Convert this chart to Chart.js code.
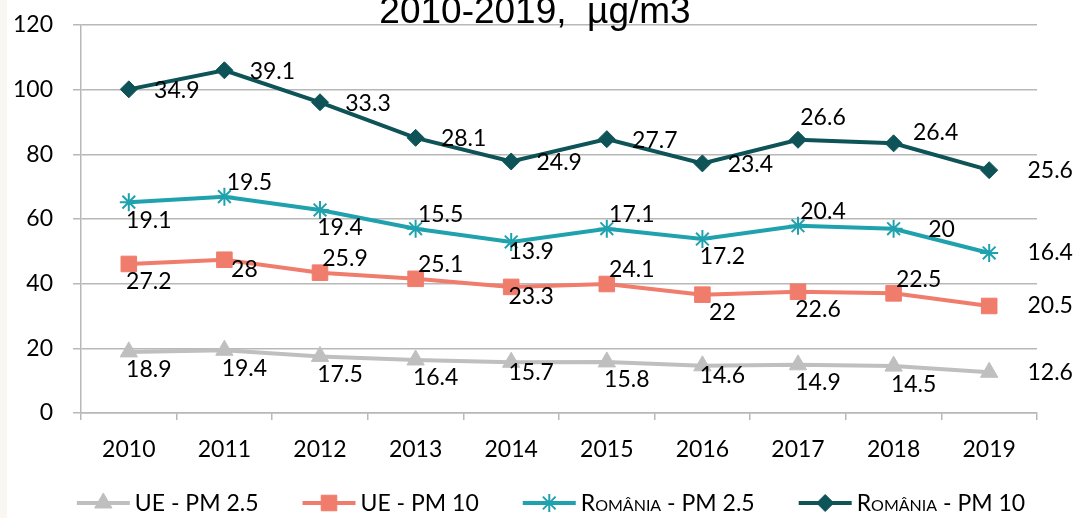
<!DOCTYPE html>
<html><head><meta charset="utf-8">
<script src="https://cdn.jsdelivr.net/npm/chart.js@4.4.1/dist/chart.umd.min.js"></script>
<style>
html,body{margin:0;padding:0;}
body{width:1078px;height:518px;overflow:hidden;background:linear-gradient(to right,#faf6f2 0,#faf6f2 7px,#ffffff 7px);}
#wrap{position:relative;width:1078px;height:518px;}
canvas{display:block;}
</style></head><body>
<div id="wrap"><canvas id="c" width="1078" height="518"></canvas></div>
<script>
// ---- data ----
const years = ['2010','2011','2012','2013','2014','2015','2016','2017','2018','2019'];
const uePM25 = [18.9,19.4,17.5,16.4,15.7,15.8,14.6,14.9,14.5,12.6];
const uePM10 = [27.2,28,25.9,25.1,23.3,24.1,22,22.6,22.5,20.5];
const roPM25 = [19.1,19.5,19.4,15.5,13.9,17.1,17.2,20.4,20,16.4];
const roPM10 = [34.9,39.1,33.3,28.1,24.9,27.7,23.4,26.6,26.4,25.6];
const yTicks = [0,20,40,60,80,100,120];
const seriesNames = ['UE - PM 2.5','UE - PM 10','România - PM 2.5','România - PM 10'];
const titleText = '2010-2019,  µg/m3';

// label placement keywords (separate from data)
const placeUE25 = ['b','b','b','b','bn','b','bn','b','b','e'];
const placeUE10 = ['b','bn','a','a','bn','a','b','b','a','e'];
const placeRO25 = ['b','a','b','a','bn','a','b','a','r','e'];
const placeRO10 = ['r','r','r','r','r','r','r','at','ar','e'];

const placeOffsets = {
  r:[48,1], e:[61,0], a:[25,-14], at:[25,-22], ar:[42,-11], b:[20,18], bn:[20,10]
};

const FONT = 'Lato, "Noto Sans", sans-serif';

const styles = [
  {color:'#bfbfbf', point:'triangle', radius:10, bw:1},
  {color:'#f07c6c', point:'rect', radius:11, bw:1},
  {color:'#1fa2ad', point:'star', radius:9, bw:2},
  {color:'#0d5357', point:'rectRot', radius:8.5, bw:1}
];
const seriesData = [uePM25, uePM10, roPM25, roPM10];
const seriesPlace = [placeUE25, placeUE10, placeRO25, placeRO10];

const datasets = seriesData.map((d,i)=>({
  label: seriesNames[i],
  data: d,
  borderColor: styles[i].color,
  backgroundColor: styles[i].color,
  pointBackgroundColor: styles[i].color,
  pointBorderColor: styles[i].color,
  pointStyle: styles[i].point,
  pointRadius: styles[i].radius,
  pointBorderWidth: styles[i].bw,
  borderWidth: 4,
  tension: 0,
  fill: false
}));

const labelPlugin = {
  id:'valueLabels',
  afterDatasetsDraw(chart){
    const ctx = chart.ctx;
    ctx.save();
    ctx.font = '23px ' + FONT;
    ctx.fillStyle = '#000';
    ctx.textAlign = 'center';
    ctx.textBaseline = 'middle';
    chart.data.datasets.forEach((ds,i)=>{
      const meta = chart.getDatasetMeta(i);
      meta.data.forEach((el,j)=>{
        const off = placeOffsets[seriesPlace[i][j]];
        ctx.fillText(String(ds.data[j]), el.x + off[0], el.y + off[1]);
      });
    });
    ctx.restore();
  }
};

const titlePlugin = {
  id:'topTitle',
  afterDraw(chart){
    const ctx = chart.ctx;
    ctx.save();
    ctx.font = '37px "Liberation Sans", Arial, sans-serif';
    ctx.fillStyle = '#000';
    ctx.textAlign = 'center';
    ctx.textBaseline = 'alphabetic';
    ctx.fillText(titleText, chart.width/2 - 4, 23);
    ctx.restore();
  }
};

const legendPlugin = {
  id:'bottomLegend',
  afterDraw(chart){
    const ctx = chart.ctx;
    ctx.save();
    ctx.font = 'small-caps 23px ' + FONT;
    const lineLen = 53, gapText = 5, gapItem = 44;
    const widths = seriesNames.map(n=>ctx.measureText(n).width);
    let total = widths.reduce((a,b)=>a+b,0) + seriesNames.length*(lineLen+gapText) + (seriesNames.length-1)*gapItem;
    let x = 551 - total/2;
    const y = 503;
    seriesNames.forEach((n,i)=>{
      const st = styles[i];
      ctx.strokeStyle = st.color;
      ctx.fillStyle = st.color;
      ctx.lineWidth = 4;
      ctx.beginPath();
      ctx.moveTo(x, y); ctx.lineTo(x+lineLen, y);
      ctx.stroke();
      ctx.lineWidth = st.bw;
      Chart.helpers.drawPoint(ctx, {pointStyle: st.point, radius: st.radius, borderWidth: st.bw, rotation:0}, x+lineLen/2, y);
      ctx.fillStyle = '#000';
      ctx.textAlign = 'left';
      ctx.textBaseline = 'middle';
      ctx.fillText(n, x+lineLen+gapText, y+1);
      x += lineLen + gapText + widths[i] + gapItem;
    });
    ctx.restore();
  }
};

const GRID = '#b8b8b8';

new Chart(document.getElementById('c'), {
  type:'line',
  data:{labels: years, datasets},
  plugins:[labelPlugin, titlePlugin, legendPlugin],
  options:{
    responsive:false,
    animation:false,
    devicePixelRatio:1,
    layout:{padding:{left:0, top:25, right:41, bottom:58}},
    plugins:{legend:{display:false}, title:{display:false}, tooltip:{enabled:false}},
    scales:{
      x:{
        offset:true,
        grid:{display:true, drawOnChartArea:false, drawTicks:true, tickLength:7, color:GRID, lineWidth:1.5, offset:true},
        border:{display:true, color:GRID, width:1.5},
        ticks:{font:{family:FONT, size:23}, color:'#000', padding:16, maxRotation:0, autoSkip:false},
        afterFit(s){ s.height = 47; s.paddingLeft = 0; s.paddingRight = 0; }
      },
      y:{
        stacked:true,
        min:0, max:120,
        grid:{color:GRID, lineWidth:1.5, tickLength:8, drawTicks:true},
        border:{display:true, color:GRID, width:1.5},
        ticks:{font:{family:FONT, size:23}, color:'#000', padding:20},
        afterBuildTicks(s){ s.ticks = yTicks.map(v=>({value:v})); },
        afterFit(s){ s.width = 81; s.paddingTop = 0; s.paddingBottom = 0; }
      }
    }
  }
});
</script>
</body></html>
